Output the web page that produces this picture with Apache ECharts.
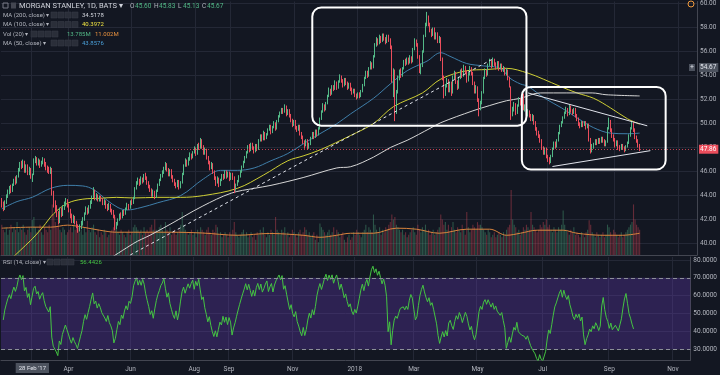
<!DOCTYPE html>
<html>
<head>
<meta charset="utf-8">
<script src="https://cdn.jsdelivr.net/npm/echarts@6/dist/echarts.min.js"></script>
<style>
  html, body { margin: 0; padding: 0; background: #131722; }
  #chart { width: 720px; height: 375px; }
</style>
</head>
<body>
<div id="chart"></div>
<script>
// daily candles [open, close, low, high], one row per trading day from late Jan 2017
const ohlc = [
  [43.6,43.3,43.0,43.8],[43.3,42.9,42.7,43.5],[42.9,43.5,42.8,43.6],[43.5,43.9,43.3,44.1],[43.9,44.3,43.8,44.5],[44.3,44.6,44.1,44.8],[44.7,44.4,44.2,44.9],[44.4,44.9,44.3,45.0],[44.9,45.3,44.8,45.4],[45.4,45.1,44.9,45.6],
  [45.1,45.5,45.0,45.7],[45.6,46.2,45.5,46.3],[46.2,46.6,46.0,46.8],[46.7,46.4,46.2,46.9],[46.4,46.8,46.3,47.0],[46.8,46.1,45.9,46.9],[46.1,46.4,45.9,46.6],[46.5,45.9,45.7,46.6],[45.9,46.2,45.7,46.4],[46.2,45.6,45.4,46.3],
  [45.6,45.67,45.13,45.83],[45.8,46.9,45.7,47.1],[46.9,47.1,46.7,47.3],[47.1,46.7,46.5,47.2],[46.7,46.9,46.5,47.1],[46.9,46.5,46.3,47.0],[46.5,46.8,46.4,46.9],[46.8,47.0,46.6,47.2],[47.0,46.6,46.4,47.1],[46.6,46.3,46.1,46.8],
  [46.3,46.2,45.9,46.5],[46.2,46.0,45.8,46.4],[46.0,46.3,45.8,46.4],[46.2,44.2,44.0,46.3],[44.2,43.2,43.0,44.4],[43.2,43.0,42.6,43.6],[43.0,42.5,42.2,43.2],[42.5,42.0,41.6,42.7],[42.0,42.8,41.7,43.0],[42.8,42.4,42.2,43.0],
  [42.4,43.0,42.3,43.2],[43.0,43.3,42.8,43.5],[43.3,43.6,43.1,43.8],[43.6,43.2,43.0,43.7],[43.2,42.8,42.6,43.3],[42.8,42.3,42.1,42.9],[42.3,41.9,41.7,42.5],[41.9,42.2,41.7,42.4],[42.2,41.8,41.6,42.3],[41.8,41.5,41.3,41.9],
  [41.5,41.1,40.9,41.6],[41.1,41.4,41.0,41.6],[41.4,41.7,41.2,41.9],[41.7,42.0,41.5,42.2],[42.0,42.5,41.9,42.6],[42.5,42.9,42.4,43.1],[42.9,42.6,42.4,43.0],[42.6,43.0,42.5,43.2],[43.0,43.4,42.9,43.6],[43.4,43.9,43.3,44.0],
  [43.9,44.4,43.8,44.7],[44.4,43.8,43.6,44.5],[43.8,44.0,43.6,44.2],[44.0,43.6,43.5,44.1],[43.6,43.9,43.5,44.0],[43.9,43.7,43.5,44.0],[43.7,43.4,43.2,43.8],[43.4,43.5,43.2,43.7],[43.5,43.1,42.9,43.6],[43.1,42.9,42.7,43.3],
  [42.9,43.2,42.8,43.4],[43.2,42.8,42.6,43.3],[42.8,42.6,42.4,42.9],[42.6,42.3,42.1,42.8],[42.3,41.4,41.1,42.4],[41.4,41.6,41.2,41.8],[41.6,42.0,41.5,42.1],[42.0,42.4,41.9,42.5],[42.4,42.2,42.0,42.6],[42.2,42.7,42.1,42.8],
  [42.7,42.5,42.3,42.8],[42.5,42.9,42.4,43.0],[42.9,43.2,42.8,43.4],[43.2,43.0,42.8,43.3],[43.0,43.5,42.9,43.6],[43.5,43.4,43.2,43.7],[43.4,43.8,43.3,43.9],[43.8,44.6,43.7,44.7],[44.6,45.0,44.5,45.2],[45.0,45.3,44.9,45.5],
  [45.3,45.0,44.8,45.4],[45.0,45.4,44.9,45.6],[45.4,45.2,45.0,45.5],[45.2,45.7,45.1,45.8],[45.7,45.5,45.3,45.9],[45.5,45.1,44.9,45.6],[45.1,44.8,44.6,45.2],[44.8,44.5,44.3,44.9],[44.5,44.1,43.9,44.6],[44.1,44.3,43.9,44.5],
  [44.3,43.9,43.7,44.4],[43.9,44.4,43.8,44.5],[44.4,44.9,44.3,45.0],[44.9,45.3,44.8,45.4],[45.3,45.6,45.2,45.8],[45.6,46.0,45.5,46.1],[46.0,46.2,45.8,46.4],[46.2,46.6,46.1,46.8],[46.6,46.2,46.0,46.7],[46.2,45.8,45.6,46.3],
  [45.8,46.1,45.6,46.2],[46.1,45.6,45.4,46.2],[45.6,45.3,45.1,45.7],[45.3,45.0,44.8,45.4],[45.0,44.8,44.6,45.1],[44.8,45.2,44.7,45.3],[45.2,44.7,44.5,45.3],[44.7,45.1,44.6,45.2],[45.1,45.8,45.0,45.9],[45.8,46.5,45.7,46.6],
  [46.5,46.9,46.4,47.1],[46.9,46.6,46.4,47.0],[46.6,47.0,46.5,47.2],[47.0,47.4,46.9,47.6],[47.4,47.2,47.0,47.5],[47.2,47.6,47.1,47.7],[47.6,47.9,47.5,48.1],[47.9,47.5,47.3,48.0],[47.5,48.2,47.4,48.3],[48.2,48.0,47.8,48.4],
  [48.0,48.6,47.9,48.8],[48.6,48.1,47.9,48.7],[48.1,47.6,47.4,48.2],[47.6,47.8,47.4,48.0],[47.8,47.2,47.0,47.9],[47.2,46.8,46.6,47.3],[46.8,46.3,46.1,46.9],[46.3,46.6,46.2,46.8],[46.6,46.0,45.8,46.7],[46.0,45.5,45.3,46.1],
  [45.5,45.1,44.8,45.6],[45.1,45.4,45.0,45.6],[45.4,44.9,44.7,45.5],[44.9,45.3,44.8,45.4],[45.3,45.7,45.2,45.8],[45.7,45.5,45.3,45.8],[45.5,46.0,45.4,46.1],[46.0,45.6,45.4,46.1],[45.6,45.9,45.5,46.0],[45.9,45.4,45.2,46.0],
  [45.4,45.8,45.3,45.9],[45.8,45.5,45.3,45.9],[45.5,44.5,44.2,45.6],[44.5,44.9,44.4,45.0],[44.9,45.2,44.8,45.3],[45.2,45.6,45.1,45.7],[45.6,46.0,45.5,46.1],[46.0,46.4,45.9,46.5],[46.4,46.8,46.3,46.9],[46.8,47.2,46.7,47.3],
  [47.2,47.6,47.1,47.7],[47.6,48.1,47.5,48.2],[48.1,47.8,47.6,48.3],[47.8,48.3,47.7,48.4],[48.3,48.0,47.8,48.4],[48.0,47.7,47.5,48.1],[47.7,48.2,47.6,48.3],[48.2,47.9,47.7,48.3],[47.9,48.6,47.8,48.7],[48.6,49.0,48.5,49.1],
  [49.0,48.7,48.5,49.1],[48.7,49.2,48.6,49.4],[49.2,48.8,48.6,49.3],[48.8,49.1,48.7,49.2],[49.1,49.5,49.0,49.6],[49.5,49.8,49.4,49.9],[49.8,49.3,49.1,49.9],[49.3,49.7,49.2,49.8],[49.7,50.0,49.6,50.2],[50.0,49.6,49.4,50.1],
  [49.6,50.2,49.5,50.3],[50.2,50.6,50.1,50.7],[50.6,50.9,50.5,51.0],[50.9,51.2,50.8,51.3],[51.2,51.0,50.8,51.3],[51.0,51.4,50.9,51.6],[51.4,50.8,50.6,51.5],[50.8,51.1,50.7,51.2],[51.1,50.7,50.5,51.2],[50.7,50.3,50.1,50.8],
  [50.3,49.9,49.7,50.4],[49.9,50.2,49.8,50.3],[50.2,49.7,49.5,50.3],[49.7,49.5,49.3,49.8],[49.5,49.8,49.4,49.9],[49.8,49.2,49.0,49.9],[49.2,48.9,48.7,49.3],[48.9,48.5,48.3,49.0],[48.5,48.2,47.9,48.6],[48.2,48.6,48.1,48.7],
  [48.6,48.0,47.8,48.7],[48.0,48.3,47.9,48.4],[48.3,48.8,48.2,48.9],[48.8,49.2,48.7,49.3],[49.2,48.9,48.7,49.3],[48.9,49.4,48.8,49.5],[49.4,49.1,48.9,49.5],[49.1,49.6,49.0,49.7],[49.6,50.4,49.5,50.5],[50.4,51.0,50.3,51.1],
  [51.0,51.5,50.9,51.7],[51.5,51.2,51.0,51.6],[51.2,51.7,51.1,51.8],[51.7,52.3,51.6,52.4],[52.3,52.8,52.2,53.0],[52.8,52.5,52.3,52.9],[52.5,53.1,52.4,53.2],[53.1,52.9,52.7,53.2],[52.9,53.4,52.8,53.6],[53.4,53.0,52.8,53.5],
  [53.0,53.5,52.9,53.6],[53.5,53.9,53.4,54.1],[53.9,53.6,53.4,54.0],[53.6,53.2,53.0,53.7],[53.2,53.7,53.1,53.8],[53.7,53.4,53.2,53.8],[53.4,53.0,52.8,53.5],[53.0,53.3,52.9,53.4],[53.3,52.9,52.7,53.4],[52.9,52.6,52.4,53.0],
  [52.6,52.8,52.5,52.9],[52.8,52.4,52.2,52.9],[52.4,52.2,52.0,52.5],[52.2,52.5,52.1,52.6],[52.5,52.3,52.1,52.6],[52.3,52.7,52.2,52.8],[52.7,53.2,52.6,53.3],[53.2,53.8,53.1,53.9],[53.8,54.3,53.7,54.4],[54.3,54.0,53.8,54.4],
  [54.0,54.6,53.9,54.7],[54.6,55.0,54.5,55.2],[55.0,54.7,54.5,55.1],[54.7,55.6,54.6,55.7],[55.6,56.5,55.5,56.7],[56.5,57.0,56.4,57.2],[57.0,56.7,56.5,57.1],[56.7,57.2,56.6,57.4],[57.2,56.9,56.7,57.3],[56.9,57.4,56.8,57.5],
  [57.4,57.1,56.9,57.5],[57.1,56.8,56.6,57.2],[56.8,57.3,56.7,57.4],[57.3,57.0,56.8,57.4],[57.0,56.4,56.2,57.1],[56.4,53.6,53.4,56.5],[53.6,54.4,52.2,54.6],[54.4,51.2,50.2,54.5],[51.2,52.6,50.8,52.8],[52.6,53.8,52.5,54.0],
  [53.8,54.3,53.6,54.5],[54.3,54.0,53.8,54.6],[54.0,54.6,53.9,54.7],[54.6,55.2,54.5,55.3],[55.2,55.0,54.8,55.4],[55.0,55.4,54.9,55.5],[55.4,55.1,54.9,55.5],[55.1,55.5,55.0,55.7],[55.5,55.2,55.0,55.6],[55.2,56.2,55.1,56.3],
  [56.2,56.9,56.1,57.1],[56.9,56.6,56.4,57.0],[56.6,55.6,55.4,56.7],[55.6,54.5,54.2,55.7],[54.5,54.8,54.1,55.0],[54.8,56.0,54.7,56.1],[56.0,57.3,55.9,57.4],[57.3,58.2,57.2,58.4],[58.2,58.9,58.1,59.3],[58.9,58.3,58.1,59.0],
  [58.3,57.8,57.6,58.4],[57.8,57.4,57.2,57.9],[57.4,57.9,57.3,58.0],[57.9,57.2,57.0,58.0],[57.2,57.5,57.0,57.6],[57.5,56.9,56.7,57.6],[56.9,57.1,56.7,57.3],[57.1,55.4,55.2,57.2],[55.4,53.8,53.6,55.5],[53.8,52.5,52.1,54.0],
  [52.5,53.1,52.3,53.3],[53.1,53.6,53.0,53.8],[53.6,52.8,52.6,53.7],[52.8,53.4,52.6,53.5],[53.4,52.6,52.3,53.5],[52.6,53.9,52.5,54.0],[53.9,54.2,53.7,54.4],[54.2,53.5,53.3,54.3],[53.5,53.0,52.8,53.6],[53.0,53.8,52.9,53.9],
  [53.8,54.4,53.7,54.5],[54.4,54.0,53.8,54.6],[54.0,54.7,53.9,54.9],[54.7,54.3,54.1,54.8],[54.3,53.6,53.4,54.4],[53.6,54.1,53.5,54.2],[54.1,54.6,54.0,54.8],[54.6,54.2,54.0,54.7],[54.2,53.4,53.2,54.3],[53.4,52.7,52.5,53.5],
  [52.7,53.0,52.5,53.2],[53.0,52.0,51.8,53.1],[52.0,51.3,50.6,52.1],[51.3,51.7,51.1,51.9],[51.7,52.6,51.6,52.7],[52.6,53.8,52.5,53.9],[53.8,54.4,53.7,54.6],[54.4,54.1,53.9,54.5],[54.1,54.9,54.0,55.0],[54.9,55.2,54.8,55.4],
  [55.2,54.8,54.6,55.3],[54.8,55.3,54.7,55.5],[55.3,55.0,54.8,55.4],[55.0,54.7,54.5,55.1],[54.7,55.1,54.6,55.2],[55.1,54.6,54.4,55.2],[54.6,54.9,54.5,55.0],[54.9,54.5,54.3,55.0],[54.5,54.6,54.3,54.8],[54.6,54.2,54.0,54.7],
  [54.2,54.4,54.0,54.6],[54.4,53.8,53.6,54.5],[53.8,53.2,53.0,53.9],[53.0,50.8,50.3,53.1],[50.8,51.2,50.6,51.4],[51.2,51.6,51.0,51.8],[51.6,50.9,50.7,51.7],[50.9,51.5,50.8,51.6],[51.5,52.0,51.4,52.2],[52.0,51.7,51.5,52.1],
  [51.7,52.3,51.6,52.4],[52.4,51.3,51.1,52.5],[51.3,51.4,51.0,51.6],[51.4,50.9,50.7,51.5],[50.9,51.0,50.6,51.2],[51.0,50.7,50.5,51.1],[50.7,50.4,50.2,50.8],[50.4,50.6,50.2,50.8],[50.6,50.1,49.9,50.7],[50.1,49.6,49.4,50.2],
  [49.6,49.2,49.0,49.7],[49.2,49.0,48.8,49.4],[49.0,48.6,48.4,49.1],[48.6,48.0,47.8,48.7],[48.0,47.6,47.4,48.1],[47.6,47.9,47.4,48.0],[47.9,47.3,47.1,48.0],[47.3,47.0,46.8,47.4],[47.0,46.8,46.6,47.2],[46.8,47.3,46.7,47.4],
  [47.3,47.9,47.2,48.0],[47.9,48.4,47.8,48.5],[48.4,48.1,47.9,48.5],[48.1,48.6,48.0,48.7],[48.6,49.2,48.5,49.3],[49.2,49.8,49.1,49.9],[49.8,50.1,49.7,50.2],[50.1,50.5,50.0,50.6],[50.5,50.9,50.4,51.0],[50.9,51.2,50.8,51.4],
  [51.2,50.8,50.6,51.3],[50.8,51.4,50.7,51.6],[51.4,51.1,50.9,51.5],[51.1,50.9,50.7,51.2],[50.9,51.2,50.8,51.3],[51.2,50.7,50.5,51.3],[50.7,50.4,50.2,50.8],[50.4,50.0,49.8,50.5],[50.0,49.8,49.6,50.1],[49.8,50.1,49.7,50.2],
  [50.1,49.9,49.7,50.2],[49.9,50.1,49.8,50.2],[50.1,49.7,49.5,50.2],[49.7,49.9,49.6,50.0],[49.9,48.7,48.5,50.0],[48.7,47.8,47.5,48.8],[47.8,48.1,47.6,48.3],[48.1,48.3,47.9,48.4],[48.3,48.6,48.2,48.7],[48.6,48.4,48.2,48.7],
  [48.4,48.7,48.3,48.8],[48.7,48.5,48.3,48.8],[48.5,48.8,48.4,48.9],[48.8,48.6,48.4,48.9],[48.6,48.3,48.1,48.7],[48.3,48.5,48.1,48.6],[48.5,49.6,48.4,49.7],[49.6,50.2,49.5,50.5],[50.2,49.5,49.3,50.3],[49.5,49.0,48.8,49.6],
  [49.0,48.7,48.5,49.1],[48.7,48.2,48.0,48.8],[48.2,48.5,48.1,48.6],[48.5,48.0,47.8,48.6],[48.0,47.9,47.7,48.2],[47.9,48.2,47.8,48.3],[48.2,48.0,47.8,48.3],[48.0,47.8,47.6,48.1],[47.8,48.1,47.7,48.2],[48.1,48.4,48.0,48.5],
  [48.4,49.0,48.3,49.1],[49.0,49.6,48.9,49.7],[49.6,50.0,49.5,50.2],[50.0,49.5,49.3,50.1],[49.5,48.9,48.7,49.6],[48.9,48.6,48.4,49.0],[48.6,48.2,48.0,48.7],[48.2,47.86,47.7,48.3]
];

// daily volume, millions
const volumes = [
  12,10,9,11,8,10,12,9,11,10,13,9,11,10,12,9,8,10,11,9,
  13.8,15,11,9,10,12,9,8,11,10,9,12,10,20,16,13,11,12,10,9,
  11,10,8,9,10,11,9,12,10,13,11,9,10,8,11,9,13.5,10,9,11,
  12,9,8,10,7,9,8,10,9,7,8,9,10,11,15,12,9,8,10,9,
  8,7,9,10,8,9,11,12,11,10,9,10,8,11,9,10,9,11,12,10,
  14,10,9,11,12,10,9,13,10,9,11,8,9,10,8,9,10,12,17,12,
  10,9,8,9,10,8,9,7,10,9,11,10,9,8,10,11,9,8,10,9,
  12,11,8,9,7,8,9,8,7,9,8,10,13,9,8,7,8,9,10,8,
  9,7,8,9,7,8,6,9,8,10,9,11,8,7,9,8,10,9,8,15,
  10,9,8,10,9,11,8,9,7,8,10,9,8,7,9,10,8,9,11,10,
  8,9,7,8,9,6,8,5,12.5,11,10,9,8,9,10,8,9,11,8,10,
  9,7,8,9,6,5,7,8,6,7,9,8,10,9,8,7,9,10,12,9,
  11,10,9,16,12,10,9,11,8,10,9,11,10,12,13,16,14,15,12,11,
  10,9,10,8,9,7,8,9,10,11,9,8,12,10,9,11,10,12,9,10,
  8,9,10,8,9,10,11,16,14,12,13,10,12,9,11,13,10,9,11,10,
  9,12,10,8,17,11,9,10,12,11,10,13,12,12,11,10,9,8,10,9,
  7,8,9,7,8,9,8,7,9,8,10,11,12,25.7,14,12,11,9,10,8,
  9,11,10,12,11,10,17,12,11,10,9,10,12,11,13,12,14,11,12,10,
  9,11,10,9,11,10,12,17.6,12,10,9,8,10,9,11,8,9,8,7,9,
  8,7,9,10,13.7,12,9,8,7,9,8,7,8,9,7,8,12,11,9,8,
  10,9,8,7,8,9,7,8,9,10,11,12,13,20,14,12,11,10
];

// moving averages at [day index, value]
const ma50Points = [[0,42.9],[10,43.5],[20,43.86],[32,44.6],[43,44.85],[53,44.8],[60,44.5],[69,43.6],[76,43.0],[82,42.8],[91,43.0],[102,43.4],[117,44.0],[132,45.4],[143,46.1],[154,46.1],[165,46.3],[176,46.9],[187,47.5],[197,48.3],[208,49.15],[219,49.98],[228,50.8],[243,52.1],[254,53.3],[265,54.4],[278,55.2],[287,55.9],[293,55.6],[304,55.0],[315,54.8],[326,54.6],[332,53.8],[339,53.3],[344,53.1],[355,52.1],[366,51.3],[377,50.4],[387,49.65],[398,49.2],[409,49.15],[417,49.2]];
const ma100Points = [[0,38.0],[20,40.4],[27,41.4],[34,42.5],[43,43.36],[53,43.7],[64,43.77],[75,43.85],[86,43.8],[102,43.85],[117,43.85],[132,44.0],[154,44.6],[171,45.7],[187,46.9],[197,47.3],[208,47.8],[228,49.0],[243,50.0],[256,51.4],[275,52.55],[287,53.7],[304,54.4],[317,54.5],[330,54.6],[344,54.2],[354,53.7],[365,53.1],[376,52.55],[387,52.1],[398,51.3],[409,50.4],[417,49.95]];
const ma200Points = [[20,34.52],[86,40.0],[97,40.7],[110,41.6],[131,43.1],[150,44.2],[165,44.6],[176,44.85],[197,45.5],[219,46.3],[228,46.4],[243,47.2],[254,48.0],[265,48.6],[280,49.6],[287,50.07],[308,51.06],[319,51.5],[330,51.9],[339,52.1],[352,52.55],[386,52.55],[395,52.4],[417,52.3]];
const volMaPoints = [[0,10.6],[20,11.0],[32,11.0],[43,11.8],[53,11.0],[64,9.8],[75,9.0],[86,9.0],[97,9.0],[110,9.0],[131,8.7],[154,7.8],[175,8.5],[197,7.8],[208,7.0],[219,7.8],[228,8.6],[243,8.6],[258,10.6],[271,10.2],[286,8.6],[304,10.2],[319,10.2],[330,7.8],[339,8.6],[350,9.8],[367,9.8],[376,8.6],[393,7.8],[406,7.8],[417,8.6]];

const monthTicks = [[44,'Apr'],[85,'Jun'],[127,'Aug'],[150,'Sep'],[192,'Nov'],[233,'2018'],[272,'Mar'],[314,'May'],[357,'Jul'],[401,'Sep'],[443,'Nov']];
const priceTicks = [40,42,44,46,48,50,52,54,56,58,60];
const rsiTicks = [30,40,50,60,70,80];
const headerQuote = [['O','45.60'],['H','45.83'],['L','45.13'],['C','45.67']];
const slotCount = 455;
const lastPrice = 47.86;
const hoverPrice = 54.67;
const hoverIndex = 20;

const bg = '#131722';
const gridColor = '#242836';
const axisText = '#b2b5be';
const upColor = '#53b987';
const downColor = '#eb4d5c';
const font = 'Roboto, "Liberation Sans", sans-serif';

const categories = Array.from({ length: slotCount }, (_, i) => String(i));
const labelMap = {};
monthTicks.forEach(([i, t]) => { labelMap[i] = t; });
const gridIdx = new Set(monthTicks.map(m => m[0]).concat([hoverIndex]));

function sparse(points) {
  const arr = new Array(slotCount).fill(null);
  points.forEach(([i, v]) => { arr[i] = v; });
  return arr;
}

// RSI(14), Wilder smoothing
function rsi(rows, n) {
  const out = [null];
  let ag = 0.2, al = 0.2;
  for (let i = 1; i < rows.length; i++) {
    const d = rows[i][1] - rows[i - 1][1];
    ag = (ag * (n - 1) + Math.max(d, 0)) / n;
    al = (al * (n - 1) + Math.max(-d, 0)) / n;
    out.push(100 - 100 / (1 + ag / al));
  }
  return out;
}

const volData = volumes.map((v, i) => ({
  value: v,
  itemStyle: { color: ohlc[i][1] >= ohlc[i][0] ? 'rgba(83,185,135,0.38)' : 'rgba(235,77,92,0.38)' }
}));

const maLine = (name, pts, color, yIdx) => ({
  name, type: 'line', xAxisIndex: 0, yAxisIndex: yIdx, data: sparse(pts),
  connectNulls: true, smooth: 0.35, symbol: 'none', silent: true,
  lineStyle: { color, width: 1 }, z: 3
});

const chart = echarts.init(document.getElementById('chart'));
chart.setOption({
  animation: false,
  backgroundColor: bg,
  textStyle: { fontFamily: font },
  grid: [
    { left: 1, right: 23, top: 0, height: 255 },
    { left: 1, right: 23, top: 257, height: 103 }
  ],
  xAxis: [0, 1].map(g => ({
    type: 'category', gridIndex: g, data: categories, boundaryGap: true,
    axisLine: { show: true, lineStyle: { color: '#434651' } },
    axisTick: { show: false },
    axisLabel: {
      show: g === 1, interval: idx => idx in labelMap, color: axisText,
      fontSize: 6.5, margin: 6, formatter: v => labelMap[v] || ''
    },
    splitLine: { show: true, interval: idx => gridIdx.has(idx), lineStyle: { color: gridColor, width: 1 } }
  })),
  yAxis: [
    {
      gridIndex: 0, position: 'right', min: 39.048, max: 60.166,
      axisLine: { show: true, lineStyle: { color: '#434651' } },
      axisTick: { show: false, customValues: priceTicks },
      axisLabel: { customValues: priceTicks, formatter: v => v.toFixed(2), color: axisText, fontSize: 6.5, margin: 3 },
      splitLine: { lineStyle: { color: gridColor } }
    },
    { gridIndex: 0, min: 0, max: 100.2, show: false, splitLine: { show: false } },
    {
      gridIndex: 1, position: 'right', min: 24.01, max: 81.68,
      axisLine: { show: true, lineStyle: { color: '#434651' } },
      axisTick: { show: false, customValues: rsiTicks },
      axisLabel: { customValues: rsiTicks, formatter: v => v.toFixed(4), color: axisText, fontSize: 6.5, margin: 3 },
      splitLine: { lineStyle: { color: gridColor } }
    }
  ],
  series: [
    {
      name: 'Vol', type: 'bar', xAxisIndex: 0, yAxisIndex: 1, data: volData,
      barWidth: '72%', silent: true, z: 1
    },
    maLine('Vol MA', volMaPoints, '#d9843d', 1),
    {
      name: 'MS', type: 'candlestick', xAxisIndex: 0, yAxisIndex: 0, data: ohlc,
      barWidth: '72%', silent: true, z: 4,
      itemStyle: { color: upColor, color0: downColor, borderColor: upColor, borderColor0: downColor, borderWidth: 1 },
      markLine: {
        silent: true, symbol: ['none', 'none'], label: { show: false },
        data: [
          { yAxis: lastPrice, lineStyle: { color: downColor, type: [1, 2], width: 1, opacity: 0.8 } },
          [{ coord: [344, 52.55], lineStyle: { color: '#e0e3eb', type: 'solid', width: 1 } }, { coord: [422, 49.81] }],
          [{ coord: [360, 46.42], lineStyle: { color: '#e0e3eb', type: 'solid', width: 1 } }, { coord: [424, 47.74] }],
          [{ coord: [84, 39.05], lineStyle: { color: '#e0e3eb', type: [3, 3], width: 1 } }, { coord: [322, 55.45] }]
        ]
      }
    },
    maLine('MA50', ma50Points, '#3f7ea9', 0),
    maLine('MA100', ma100Points, '#cfcf35', 0),
    maLine('MA200', ma200Points, '#d6d6d6', 0),
    {
      name: 'RSI', type: 'line', xAxisIndex: 1, yAxisIndex: 2, data: rsi(ohlc, 14),
      symbol: 'none', silent: true, lineStyle: { color: '#45c443', width: 1 }, z: 3,
      markArea: {
        silent: true,
        itemStyle: { color: 'rgba(103,58,183,0.32)' },
        data: [[{ yAxis: 70 }, { yAxis: 30 }]]
      },
      markLine: {
        silent: true, symbol: ['none', 'none'], label: { show: false },
        lineStyle: { color: '#8c8f99', type: [4, 3], width: 1 },
        data: [{ yAxis: 70 }, { yAxis: 30 }]
      }
    }
  ]
});

// overlays: legend rows, drawn boxes, crosshair and price tags
const px = (i, p) => chart.convertToPixel({ xAxisIndex: 0, yAxisIndex: 0 }, [i, p]);
const gfx = [];
function text(x, y, str, fill, size, extra) {
  gfx.push({
    type: 'text', x, y, silent: true, z: 120,
    style: Object.assign({ text: str, fill, font: size + 'px ' + font, verticalAlign: 'middle' }, extra || {})
  });
}
function icons(x, y) {
  for (let k = 0; k < 4; k++) {
    gfx.push({ type: 'rect', silent: true, z: 120, shape: { x: x + k * 7, y: y - 3, width: 6, height: 6 }, style: { fill: '#2a2e39', stroke: '#3b3f4b', lineWidth: 0.5 } });
  }
}
function box(i1, p1, i2, p2) {
  const a = px(i1, p1), b = px(i2, p2);
  gfx.push({ type: 'rect', silent: true, z: 110, shape: { x: a[0], y: a[1], width: b[0] - a[0], height: b[1] - a[1], r: 9 }, style: { fill: null, stroke: '#ffffff', lineWidth: 2 } });
}
box(203, 59.67, 343, 49.82);
box(340, 53.05, 434, 46.17);

gfx.push({ type: 'rect', silent: true, z: 120, shape: { x: 3, y: 3, width: 5, height: 5 }, style: { fill: null, stroke: '#787b86', lineWidth: 1 } });
gfx.push({ type: 'rect', silent: true, z: 120, shape: { x: 11, y: 2.5, width: 5, height: 6 }, style: { fill: '#434651' } });
text(19, 6, 'MORGAN STANLEY, 1D, BATS \u25BE', '#d1d4dc', 7.5);
headerQuote.forEach(([k, v], n) => {
  text(130 + n * 24, 6, k, '#b2b5be', 6.5);
  text(135 + n * 24, 6, v, upColor, 6.5);
});

text(3, 15, 'MA (200, close) \u25BE', '#b2b5be', 6);
icons(51, 15);
text(82, 15, '34.5178', '#d1d4dc', 6);
text(3, 24.5, 'MA (100, close) \u25BE', '#b2b5be', 6);
icons(51, 24.5);
text(82, 24.5, '40.3972', '#f0e442', 6);
text(3, 34, 'Vol (20) \u25BE', '#b2b5be', 6);
icons(31, 34);
text(67, 34, '13.785M', upColor, 6);
text(95, 34, '11.002M', '#e8913f', 6);
text(3, 43, 'MA (50, close) \u25BE', '#b2b5be', 6);
icons(51, 43);
text(82, 43, '43.8576', '#4a9fd8', 6);
text(3, 262, 'RSI (14, close) \u25BE', '#b2b5be', 6);
icons(47, 262);
text(80, 262, '56.4426', '#45c443', 6);

// crosshair date tag and price tags
const hx = px(hoverIndex, 50)[0];
text(hx, 368, "28 Feb '17", '#e0e3eb', 6, { align: 'center', backgroundColor: '#4c525e', padding: [2, 3, 2, 3] });
const hy = px(0, hoverPrice)[1];
text(699, hy, hoverPrice.toFixed(2), '#e0e3eb', 6.5, { backgroundColor: '#4c525e', padding: [1, 2, 1, 1] });
text(689, hy, '+', '#e0e3eb', 7, { backgroundColor: '#4c525e', padding: [0, 1, 0, 1] });
const ly = px(0, lastPrice)[1];
text(699, ly, lastPrice.toFixed(2), '#ffffff', 6.5, { backgroundColor: downColor, padding: [1, 2, 1, 1] });
gfx.push({ type: 'circle', silent: true, z: 120, shape: { cx: 691, cy: 4, r: 3 }, style: { fill: null, stroke: '#f29a3c', lineWidth: 1 } });

chart.setOption({ graphic: gfx });
</script>
</body>
</html>
